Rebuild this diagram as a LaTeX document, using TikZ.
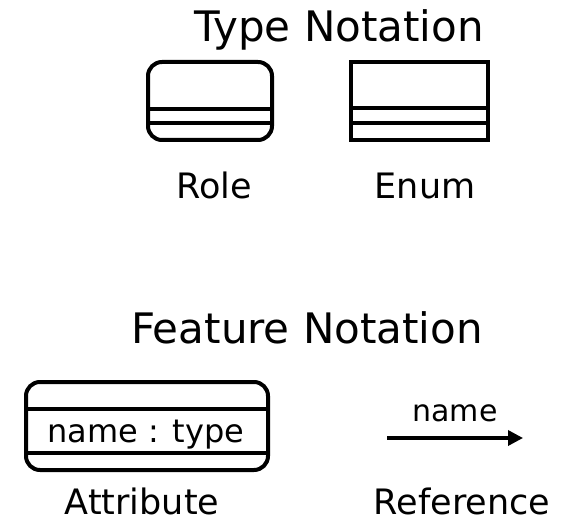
\documentclass[tikz,border=0pt]{standalone}
\usepackage{fontspec}
\setmainfont{DejaVu Sans}
\usetikzlibrary{arrows.meta}
\tikzset{
  heading/.style={anchor=base, inner sep=0pt, font=\fontsize{42}{48}\selectfont},
  caption/.style={anchor=base, inner sep=0pt, font=\fontsize{35}{42}\selectfont},
  fieldtext/.style={anchor=base, inner sep=0pt, font=\fontsize{32}{38}\selectfont},
  edgelabel/.style={anchor=base, inner sep=0pt, font=\fontsize{30}{36}\selectfont},
  outline/.style={line width=4pt, draw=black},
  divider/.style={line width=3.6pt},
  refarrow/.style={line width=3.4pt, -{Triangle[length=15pt,width=15pt]}}
}
\begin{document}
\begin{tikzpicture}[x=1pt,y=-1pt]
  \useasboundingbox (0,0) rectangle (577,521);

  % type notation
  \node[heading] (typetitle) at (339,42) {Type Notation};

  % role box: rounded corners, two compartments at the bottom
  \draw[outline, rounded corners=14pt] (148,62) rectangle (272,140);
  \draw[divider] (148,109) -- (272,109);
  \draw[divider] (148,123) -- (272,123);
  \node[caption] (rolelabel) at (214,198) {Role};

  % enum box: square corners
  \draw[outline] (351,62) rectangle (488,140);
  \draw[divider, line width=4.2pt] (351,108) -- (488,108);
  \draw[divider] (351,123) -- (488,123);
  \node[caption] (enumlabel) at (425,198) {Enum};

  % feature notation
  \node[heading] (featuretitle) at (307,343) {Feature Notation};

  % attribute box
  \draw[outline, rounded corners=14pt] (26,382) rectangle (268,470);
  \draw[divider] (26,409) -- (268,409);
  \draw[divider] (26,453) -- (268,453);
  \node[fieldtext] (attrtext) at (146,442) {name : type};
  \node[caption] (attrlabel) at (142,514) {Attribute};

  % reference arrow
  \coordinate (reftail) at (387,438);
  \coordinate (refhead) at (523,438);
  \draw[refarrow] (reftail) -- (refhead);
  \node[edgelabel] (refname) at (455,421) {name};
  \node[caption] (reflabel) at (462,514) {Reference};
\end{tikzpicture}
\end{document}
